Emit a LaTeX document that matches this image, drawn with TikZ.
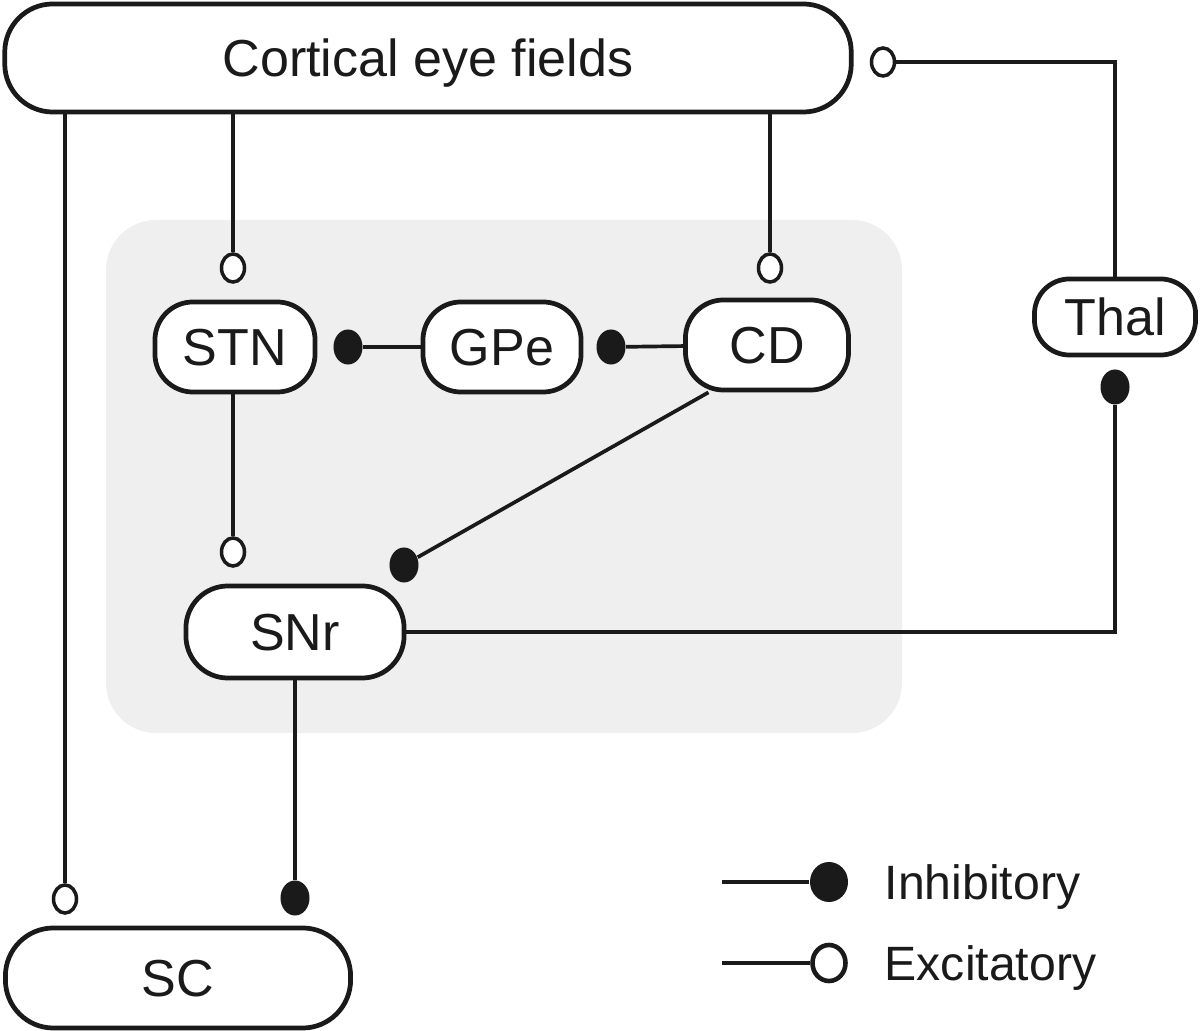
\documentclass[tikz,border=0pt]{standalone}
\usepackage{fontspec}
\setmainfont{Liberation Sans}
\usetikzlibrary{shapes.geometric}
\definecolor{ink}{RGB}{26,26,26}
\definecolor{panel}{RGB}{239,239,239}
\begin{document}
\begin{tikzpicture}[x=0.01cm,y=-0.01cm,
  box/.style={draw=ink, fill=white, line width=1.35pt, inner sep=0pt, text=ink,
    text depth=0pt, font=\fontsize{14.8}{17}\selectfont},
  conn/.style={draw=ink, line width=1.05pt},
  exc/.style={ellipse, draw=ink, fill=white, line width=1pt, inner sep=0pt,
    minimum width=0.23cm, minimum height=0.28cm},
  inh/.style={ellipse, fill=ink, inner sep=0pt,
    minimum width=0.29cm, minimum height=0.35cm},
  excl/.style={ellipse, draw=ink, fill=white, line width=1.3pt, inner sep=0pt,
    minimum width=0.33cm, minimum height=0.36cm},
  inhl/.style={ellipse, fill=ink, inner sep=0pt,
    minimum width=0.38cm, minimum height=0.40cm},
  legtext/.style={anchor=west, inner sep=0pt, text=ink, text depth=0pt,
    font=\fontsize{13.7}{16}\selectfont}
]
\useasboundingbox (0,0) rectangle (1200,1031);
\fill[panel, rounded corners=0.5cm] (106,220) rectangle (902,733);

% nodes
\node[box, rounded corners=0.48cm, minimum width=8.46cm, minimum height=1.08cm] (cef) at (428,58) {Cortical eye fields};
\node[box, rounded corners=0.35cm, minimum width=1.61cm, minimum height=0.76cm] (thal) at (1115,317) {Thal};
\node[box, rounded corners=0.38cm, minimum width=1.60cm, minimum height=0.90cm] (stn) at (235,347) {STN};
\node[box, rounded corners=0.38cm, minimum width=1.58cm, minimum height=0.90cm] (gpe) at (502,347) {GPe};
\node[box, rounded corners=0.38cm, minimum width=1.63cm, minimum height=0.90cm] (cd) at (767,345) {CD};
\node[box, rounded corners=0.42cm, minimum width=2.18cm, minimum height=0.92cm] (snr) at (295,632) {SNr};
\node[box, rounded corners=0.48cm, minimum width=3.45cm, minimum height=1.00cm] (sc) at (178,978) {SC};

% synapse markers
\node[exc] (eStn) at (233,268) {};
\node[exc] (eCd) at (770,268) {};
\node[exc] (eSc) at (65,899) {};
\node[exc] (eCef) at (883,62) {};
\node[exc] (eSnr) at (233,552) {};
\node[inh] (iGpeStn) at (348,347) {};
\node[inh] (iCdGpe) at (611,347) {};
\node[inh] (iThal) at (1115,387) {};
\node[inh] (iSnr) at (404,565) {};
\node[inh] (iSc) at (295,898) {};

% connectors
\draw[conn] (cef.south -| eStn) -- (eStn);
\draw[conn] (cef.south -| eCd) -- (eCd);
\draw[conn] (cef.south -| eSc) -- (eSc);
\draw[conn] (eCef) -| (thal);
\draw[conn] (iThal) |- (snr);
\draw[conn] (iGpeStn) -- (gpe);
\draw[conn] (iCdGpe) -- (cd);
\draw[conn] (stn.south -| eSnr) -- (eSnr);
\draw[conn] (iSnr) -- (cd.219);
\draw[conn] (snr.south -| iSc) -- (iSc);

% legend
\coordinate (lA) at (722,882);
\coordinate (lB) at (722,963);
\node[inhl] (lInh) at (829,882) {};
\node[excl] (lExc) at (829,963) {};
\draw[conn] (lA) -- (lInh);
\draw[conn] (lB) -- (lExc);
\node[legtext] (tInh) at (884,882) {Inhibitory};
\node[legtext] (tExc) at (884,963) {Excitatory};
\end{tikzpicture}
\end{document}
